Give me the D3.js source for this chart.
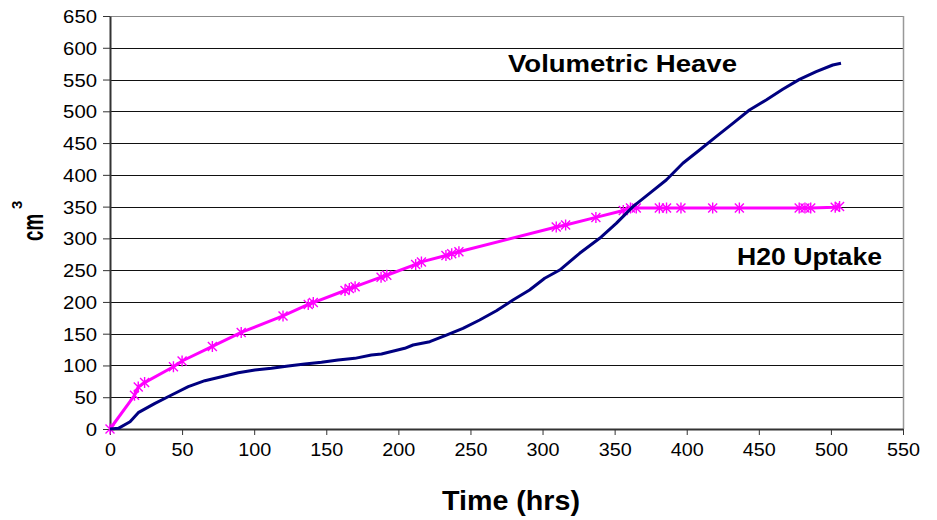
<!DOCTYPE html>
<html>
<head>
<meta charset="utf-8">
<script src="https://cdn.jsdelivr.net/npm/d3@7/dist/d3.min.js"></script>
<style>
  html, body { margin: 0; padding: 0; background: #fff; }
  svg { display: block; font-family: "Liberation Sans", Arial, sans-serif; }
</style>
</head>
<body>
<svg id="chart" width="937" height="520"></svg>
<script>
// Volumetric heave (continuous trace), hours vs cm³
const heaveHours = [0, 5.8, 13.9, 19.6, 31.2, 42.7, 54.3, 65.8, 77.4, 88.9, 100.5, 112, 123.6, 135.1,
  146.7, 158.2, 169.8, 181.3, 188.3, 204.4, 210.2, 221.8, 233.3, 244.8, 256.4, 268, 279.5, 291,
  301.5, 311.9, 325.7, 339.6, 351.1, 362.7, 374.2, 385.8, 397.3, 408.9, 420.4, 432, 443.5, 455.1,
  466.6, 478.2, 489.8, 501.3, 507];
const heaveVolume = [0, 1, 11.5, 25.7, 40.4, 53.5, 66.6, 76, 82.3, 88.6, 92.9, 95.5, 99, 102.3,
  104.9, 108.6, 111.2, 116.5, 118, 127, 132.2, 137.4, 147.9, 158.4, 171.5, 186.2, 203, 218.8,
  237.2, 250.2, 276.5, 300.1, 323.7, 349.9, 370.9, 391.9, 418.2, 439.1, 460.1, 481.1, 502, 517.8,
  534.6, 550.3, 562.4, 572.9, 575.5];

// Water uptake (sampled readings, star markers)
const uptakeHours = [0, 17, 19.6, 24, 44, 50, 71, 91, 120, 137.5, 141, 163, 166, 170, 188, 192,
  212, 216, 233, 237, 242, 309.5, 316, 337, 356, 361, 365, 381, 386, 396, 418, 436.5, 478, 482,
  486, 503, 506];
const uptakeVolume = [0, 53, 66, 73, 98, 107, 130, 152, 178, 196, 199, 218, 221, 224, 239, 242,
  259, 263, 273, 276, 279, 318, 321, 333, 344, 348, 348, 348, 348, 348, 348, 348, 348, 348,
  348, 349, 350];

const xTicks = [0, 50, 100, 150, 200, 250, 300, 350, 400, 450, 500, 550];
const yTicks = [0, 50, 100, 150, 200, 250, 300, 350, 400, 450, 500, 550, 600, 650];

const seriesLabels = ["Volumetric Heave", "H20 Uptake"];
const xTitle = "Time (hrs)";

const svg = d3.select("#chart");
const plotLeft = 110, plotRight = 903, plotTop = 16, plotBottom = 429;

const x = d3.scaleLinear().domain([0, 550]).range([plotLeft, plotRight]);
const y = d3.scaleLinear().domain([0, 650]).range([plotBottom, plotTop]);

// horizontal gridlines
svg.append("g")
  .selectAll("line")
  .data(yTicks.filter(d => d > 0))
  .join("line")
  .attr("x1", plotLeft).attr("x2", plotRight)
  .attr("y1", d => Math.round(y(d)) + 0.5).attr("y2", d => Math.round(y(d)) + 0.5)
  .attr("stroke", d => d === 650 ? "#888" : "#111")
  .attr("stroke-width", 1);

// right frame edge
svg.append("line")
  .attr("x1", plotRight + 0.5).attr("x2", plotRight + 0.5)
  .attr("y1", plotTop).attr("y2", plotBottom)
  .attr("stroke", "#999").attr("stroke-width", 1.5);

// y axis
const yAxis = d3.axisLeft(y).tickValues(yTicks).tickSize(7).tickPadding(6).tickSizeOuter(0);
const gy = svg.append("g").attr("transform", `translate(${plotLeft},0)`).call(yAxis);
gy.select(".domain").attr("stroke", "#333").attr("stroke-width", 2);
gy.selectAll(".tick line").attr("stroke", "#333").attr("stroke-width", 1);
gy.selectAll(".tick text")
  .attr("font-size", 18).attr("fill", "#000")
  .attr("font-family", "Liberation Sans, Arial, sans-serif")
  .attr("dy", "0.36em")
  .attr("textLength", d => String(d).length * 11.3)
  .attr("lengthAdjust", "spacingAndGlyphs");

// x axis
const xAxis = d3.axisBottom(x).tickValues(xTicks).tickSize(6).tickPadding(8).tickSizeOuter(0);
const gx = svg.append("g").attr("transform", `translate(0,${plotBottom})`).call(xAxis);
gx.select(".domain").attr("stroke", "#333").attr("stroke-width", 2);
gx.selectAll(".tick line").attr("stroke", "#333").attr("stroke-width", 1);
gx.selectAll(".tick text")
  .attr("font-size", 18).attr("fill", "#000")
  .attr("font-family", "Liberation Sans, Arial, sans-serif")
  .attr("textLength", d => String(d).length * 11)
  .attr("lengthAdjust", "spacingAndGlyphs");

// series lines
const heave = heaveHours.map((h, i) => [h, heaveVolume[i]]);
const uptake = uptakeHours.map((h, i) => [h, uptakeVolume[i]]);
const line = d3.line().x(d => x(d[0])).y(d => y(d[1]));

svg.append("path").datum(uptake)
  .attr("d", line).attr("fill", "none")
  .attr("stroke", "#ff00ff").attr("stroke-width", 3).attr("stroke-linejoin", "round");

// star markers on uptake readings
const m = 4.5;
svg.append("g").selectAll("path")
  .data(uptake)
  .join("path")
  .attr("d", d => {
    const cx = x(d[0]), cy = y(d[1]);
    return `M${cx - m},${cy - m}L${cx + m},${cy + m}M${cx - m},${cy + m}L${cx + m},${cy - m}M${cx},${cy - m - 1}L${cx},${cy + m + 1}`;
  })
  .attr("stroke", "#ff00ff").attr("stroke-width", 1.4).attr("fill", "none");

svg.append("path").datum(heave)
  .attr("d", line).attr("fill", "none")
  .attr("stroke", "#000080").attr("stroke-width", 3).attr("stroke-linejoin", "round");

// series labels
svg.append("text").attr("x", 508).attr("y", 72)
  .attr("font-size", 23).attr("font-weight", "bold")
  .attr("textLength", 229).attr("lengthAdjust", "spacingAndGlyphs")
  .text(seriesLabels[0]);
svg.append("text").attr("x", 737).attr("y", 265)
  .attr("font-size", 23).attr("font-weight", "bold")
  .attr("textLength", 145).attr("lengthAdjust", "spacingAndGlyphs")
  .text(seriesLabels[1]);

// axis titles
svg.append("text").attr("x", 442).attr("y", 510)
  .attr("font-size", 28).attr("font-weight", "bold")
  .attr("textLength", 138).attr("lengthAdjust", "spacingAndGlyphs")
  .text(xTitle);

const yt = svg.append("text")
  .attr("transform", "translate(43,241) rotate(-90)")
  .attr("font-size", 30).attr("font-weight", "bold");
yt.append("tspan").attr("textLength", 27).attr("lengthAdjust", "spacingAndGlyphs").text("cm");
yt.append("tspan").attr("dy", -21).attr("dx", 5).attr("font-size", 15).text("3");
</script>
</body>
</html>
